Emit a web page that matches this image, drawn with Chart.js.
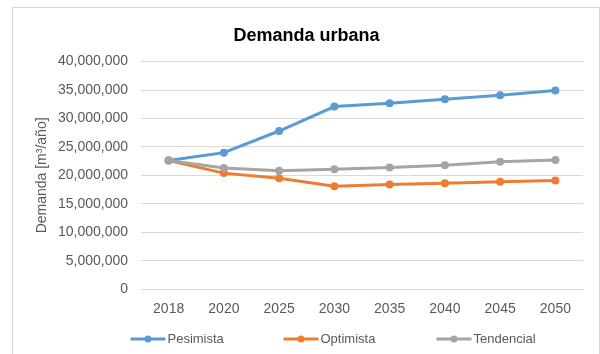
<!DOCTYPE html>
<html>
<head>
<meta charset="utf-8">
<script src="https://cdn.jsdelivr.net/npm/chart.js@4"></script>
<style>
  body { margin: 0; background: #fff; }
  canvas { display: block; }
</style>
</head>
<body>
<canvas id="myChart" width="600" height="354"></canvas>
<script>
var years = ['2018', '2020', '2025', '2030', '2035', '2040', '2045', '2050'];
var pesimista = [22600000, 24000000, 27800000, 32100000, 32700000, 33400000, 34100000, 34900000];
var optimista = [22600000, 20400000, 19500000, 18100000, 18400000, 18600000, 18900000, 19100000];
var tendencial = [22600000, 21300000, 20800000, 21100000, 21400000, 21800000, 22400000, 22700000];

var FONT = "'Liberation Sans', Arial, sans-serif";
var GREY_TEXT = '#595959';

// white page with the thin frame around the chart
var framePlugin = {
  id: 'frame',
  beforeDraw: function (chart) {
    var c = chart.ctx;
    c.save();
    c.fillStyle = '#fff';
    c.fillRect(0, 0, chart.width, chart.height);
    c.strokeStyle = '#d9d9d9';
    c.lineWidth = 1;
    c.strokeRect(12.5, 7.5, chart.width - 13, chart.height + 10);
    c.restore();
  }
};

// legend drawn as line + marker, in equal width columns under the plot
var lineLegend = {
  id: 'lineLegend',
  afterDraw: function (chart) {
    var c = chart.ctx;
    var area = chart.chartArea;
    var sets = chart.data.datasets;
    var colW = 153;
    var x0 = area.left + (area.right - area.left - sets.length * colW) / 2 - 2;
    var y = chart.height - 15;
    c.save();
    c.font = '13px ' + FONT;
    c.textBaseline = 'middle';
    c.textAlign = 'left';
    sets.forEach(function (ds, i) {
      var x = x0 + i * colW;
      c.strokeStyle = ds.borderColor;
      c.lineWidth = 3;
      c.beginPath();
      c.moveTo(x, y);
      c.lineTo(x + 35, y);
      c.stroke();
      c.fillStyle = ds.borderColor;
      c.beginPath();
      c.arc(x + 17.5, y, 3.5, 0, Math.PI * 2);
      c.fill();
      c.fillStyle = GREY_TEXT;
      c.fillText(ds.label, x + 37, y);
    });
    c.restore();
  }
};

var ctx = document.getElementById('myChart').getContext('2d');
var myChart = new Chart(ctx, {
  type: 'line',
  data: {
    labels: years,
    datasets: [{
      label: 'Pesimista',
      data: pesimista,
      borderColor: '#5B9BD5',
      backgroundColor: '#5B9BD5',
      order: 2
    }, {
      label: 'Optimista',
      data: optimista,
      borderColor: '#ED7D31',
      backgroundColor: '#ED7D31',
      order: 1
    }, {
      label: 'Tendencial',
      data: tendencial,
      borderColor: '#A5A5A5',
      backgroundColor: '#A5A5A5',
      order: 0
    }]
  },
  options: {
    responsive: false,
    animation: false,
    layout: {
      padding: { left: 30, right: 17, top: 0, bottom: 24 }
    },
    elements: {
      line: { borderWidth: 3, tension: 0 },
      point: { radius: 4, borderWidth: 0 }
    },
    plugins: {
      legend: { display: false },
      tooltip: { enabled: false },
      title: {
        display: true,
        text: 'Demanda urbana',
        color: '#000',
        font: { family: FONT, size: 18, weight: 'bold' },
        padding: { top: 25, bottom: 15 }
      }
    },
    scales: {
      x: {
        offset: true,
        grid: { display: false, drawTicks: false },
        border: { display: false },
        ticks: {
          color: GREY_TEXT,
          font: { family: FONT, size: 14 },
          padding: 12,
          maxRotation: 0
        }
      },
      y: {
        min: 0,
        max: 40000000,
        afterFit: function (scale) { scale.width = 111; },
        grid: { color: '#d9d9d9', drawTicks: false },
        border: { display: false },
        ticks: {
          stepSize: 5000000,
          color: GREY_TEXT,
          font: { family: FONT, size: 14 },
          padding: 13,
          callback: function (v) { return v.toLocaleString('en-US'); }
        },
        title: {
          display: true,
          text: 'Demanda [m³/año]',
          color: GREY_TEXT,
          font: { family: FONT, size: 14 }
        }
      }
    }
  },
  plugins: [framePlugin, lineLegend]
});
</script>
</body>
</html>
